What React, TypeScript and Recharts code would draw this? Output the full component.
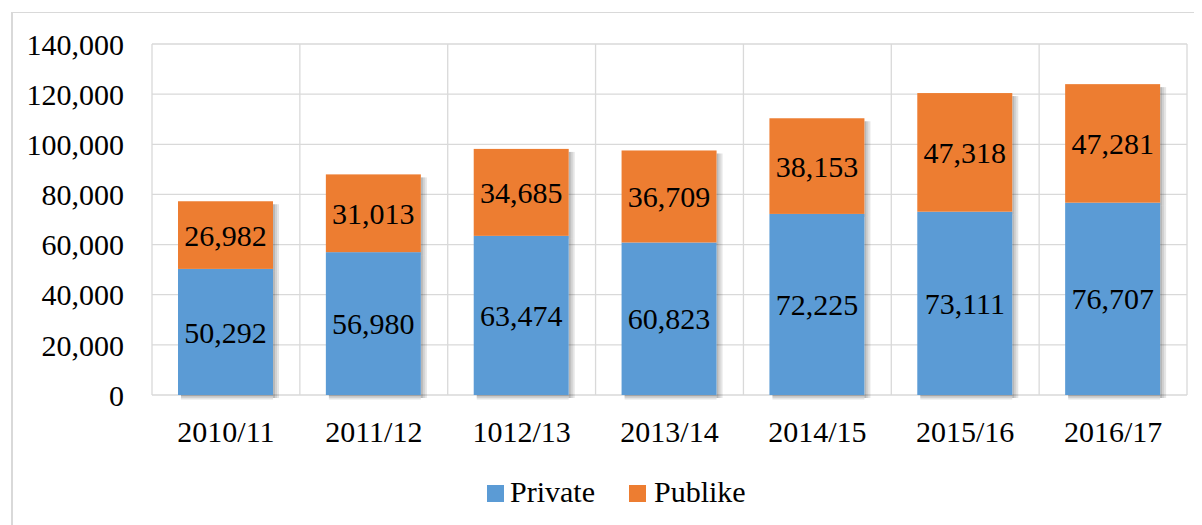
import React from 'react';
import { BarChart, Bar, XAxis, YAxis, CartesianGrid, LabelList } from 'recharts';

const categories = ['2010/11', '2011/12', '1012/13', '2013/14', '2014/15', '2015/16', '2016/17'];
const privateValues = [50292, 56980, 63474, 60823, 72225, 73111, 76707];
const publicValues = [26982, 31013, 34685, 36709, 38153, 47318, 47281];
const yTicks = [0, 20000, 40000, 60000, 80000, 100000, 120000, 140000];
const seriesNames = ['Private', 'Publike'];
const colors = ['#5B9BD5', '#ED7D31'];

const data = categories.map((c, i) => ({
  name: c,
  Private: privateValues[i],
  Publike: publicValues[i],
}));

const FONT = 'Tinos, "Liberation Serif", serif';
const FS = 30;

const fmt = (v: number) => Number(v).toLocaleString('en-US');

const shadowSteps = [0.28, 0.18, 0.1];

const makeShape = (isTop: boolean) => (props: any) => {
  const { x, y, width, height, fill } = props;
  if (width == null || height == null) return null;
  return (
    <g>
      {shadowSteps.map((op, k) => (
        <rect key={'r' + k} x={x + width + k * 2} y={y + 3} width={2} height={height} fill="#000" fillOpacity={op} />
      ))}
      {!isTop &&
        shadowSteps.map((op, k) => (
          <rect key={'b' + k} x={x + 3} y={y + height + k * 1.5} width={width - 3} height={1.5} fill="#000" fillOpacity={op} />
        ))}
      <rect x={x} y={y} width={width} height={height} fill={fill} />
    </g>
  );
};

const vertGen = (args: any) => {
  const off = args.offset;
  const n = categories.length;
  const out: number[] = [];
  for (let i = 0; i <= n; i++) out.push(off.left + (off.width * i) / n);
  return out;
};

const tickStyle = { fill: '#000', fontSize: FS, fontFamily: FONT };

export default function App() {
  return (
    <div style={{ paddingLeft: 3, paddingTop: 4 }}>
      <div
        style={{
          position: 'relative',
          width: 1191,
          height: 513,
          borderLeft: '2px solid #D9D9D9',
          borderTop: '1px solid #D9D9D9',
        }}
      >
        <BarChart
          width={1189}
          height={512}
          data={data}
          margin={{ top: 31, right: 15, left: 0, bottom: 0 }}
        >
          <CartesianGrid stroke="#D9D9D9" strokeWidth={1.3} verticalCoordinatesGenerator={vertGen} />
          <XAxis
            dataKey="name"
            height={130}
            axisLine={false}
            tickLine={false}
            tickSize={0}
            tickMargin={26}
            tick={tickStyle}
            interval={0}
          />
          <YAxis
            width={139}
            domain={[0, 140000]}
            ticks={yTicks}
            axisLine={false}
            tickLine={false}
            tickSize={0}
            tickMargin={28}
            tickFormatter={fmt}
            tick={tickStyle}
            interval={0}
          />
          <Bar dataKey={seriesNames[0]} stackId="a" fill={colors[0]} barSize={95} isAnimationActive={false} shape={makeShape(false)}>
            <LabelList dataKey={seriesNames[0]} position="center" formatter={fmt} fill="#000" fontSize={FS} fontFamily={FONT} />
          </Bar>
          <Bar dataKey={seriesNames[1]} stackId="a" fill={colors[1]} barSize={95} isAnimationActive={false} shape={makeShape(true)}>
            <LabelList dataKey={seriesNames[1]} position="center" formatter={fmt} fill="#000" fontSize={FS} fontFamily={FONT} />
          </Bar>
        </BarChart>
        {seriesNames.map((s, i) => (
          <React.Fragment key={s}>
            <div style={{ position: 'absolute', left: i === 0 ? 474 : 616, top: 472, width: 17, height: 17, background: colors[i] }} />
            <div style={{ position: 'absolute', left: i === 0 ? 497 : 641, top: 464, fontSize: FS, lineHeight: '30px', color: '#000', fontFamily: FONT, whiteSpace: 'nowrap' }}>
              {s}
            </div>
          </React.Fragment>
        ))}
      </div>
    </div>
  );
}
